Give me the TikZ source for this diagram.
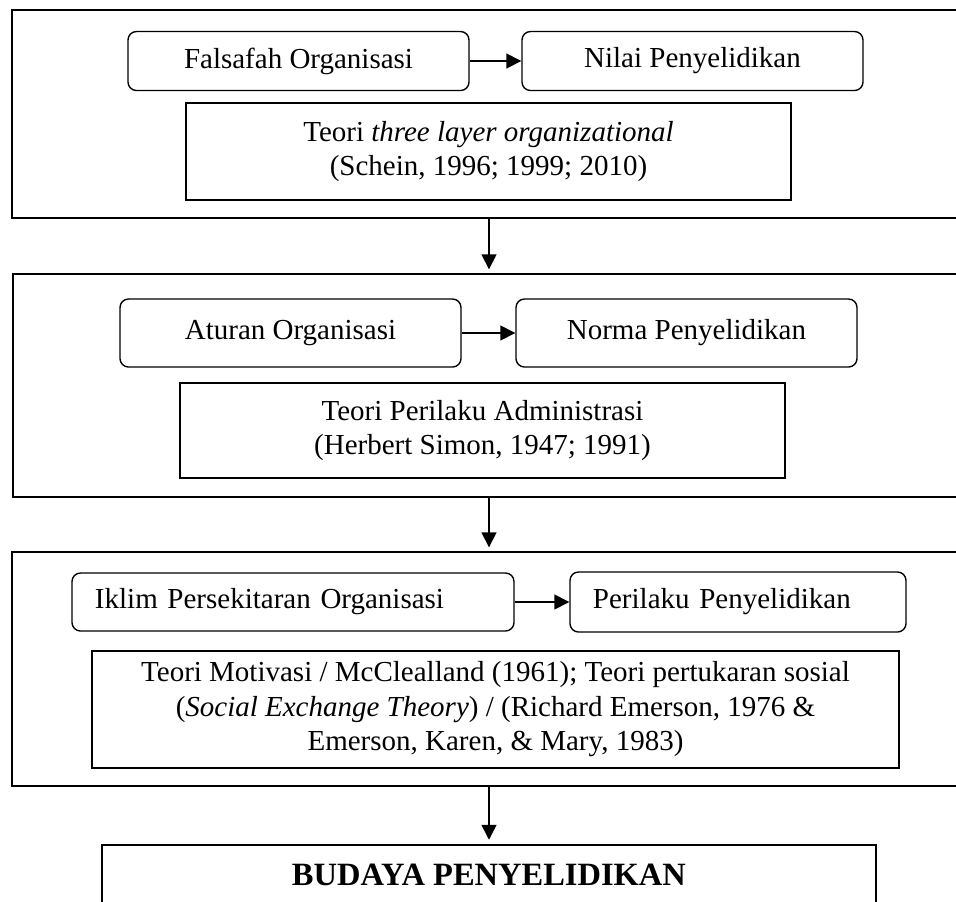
\documentclass[tikz,border=0pt]{standalone}
\usepackage{fontspec}
\setmainfont{Liberation Serif}
\usetikzlibrary{arrows.meta,positioning,calc}

\begin{document}
\begin{tikzpicture}[
  x=0.4pt, y=-0.4pt,
  layerbox/.style={
    rectangle, draw=black, line width=0.55pt,
    inner sep=0pt
  },
  roundbox/.style={
    rectangle, rounded corners=3.4pt, draw=black, line width=0.55pt,
    minimum height=23.6pt, align=center,
    font=\fontsize{11.6}{13.8}\selectfont
  },
  leftbox/.style={
    roundbox, align=left, inner xsep=9.2pt
  },
  theorybox/.style={
    rectangle, draw=black, line width=0.55pt,
    minimum width=242pt, align=center,
    font=\fontsize{11.6}{13.8}\selectfont
  },
  resultbox/.style={
    rectangle, draw=black, line width=1pt,
    minimum width=309.6pt, minimum height=24pt,
    font=\fontsize{13}{15}\selectfont\bfseries
  },
  arrow/.style={-{Triangle[length=6pt,width=6pt]}, line width=0.6pt}
]
  \useasboundingbox (0,0) rectangle (956,902);
  \clip (0,0) rectangle (956,902);

  % layer 1
  \node[layerbox, minimum width=385.2pt, minimum height=83.2pt] (layer1) at (493.5,114) {};
  \node[roundbox, minimum width=136.4pt] (falsafah) at (298.5,61) {Falsafah Organisasi};
  \node[roundbox, minimum width=136.4pt] (nilai) at (692.5,61) {Nilai Penyelidikan};
  \node[theorybox, minimum height=38.8pt] (schein) at (488.5,151.5)
       {Teori \textit{three layer organizational}\\(Schein, 1996; 1999; 2010)};

  % layer 2
  \node[layerbox, minimum width=384.8pt, minimum height=89.2pt] (layer2) at (494,385.5) {};
  \node[roundbox, minimum width=136.4pt, minimum height=27.2pt] (aturan) at (290.5,333) {Aturan Organisasi};
  \node[roundbox, minimum width=136.4pt, minimum height=27.2pt] (norma) at (686.5,333) {Norma Penyelidikan};
  \node[theorybox, minimum height=38pt] (simon) at (482.5,430.5)
       {Teori Perilaku Administrasi\\(Herbert Simon, 1947; 1991)};

  % layer 3
  \node[layerbox, minimum width=385.2pt, minimum height=93.6pt] (layer3) at (493.5,669) {};
  \node[leftbox, minimum width=176.8pt, text width=158.4pt, minimum height=23.2pt] (iklim) at (293,602)
       {Iklim Persekitaran Organisasi};
  \node[leftbox, minimum width=134.4pt, text width=116pt, minimum height=24pt] (perilaku) at (738,602)
       {Perilaku Penyelidikan};
  \node[theorybox, minimum width=322.8pt, minimum height=46.8pt] (emerson) at (495.5,709.5)
       {Teori Motivasi / McClealland (1961); Teori pertukaran sosial\\
        (\textit{Social Exchange Theory}) / (Richard Emerson, 1976 \&\\
        Emerson, Karen, \& Mary, 1983)};

  % result
  \node[resultbox] (budaya) at (489,875) {BUDAYA PENYELIDIKAN};

  \draw[arrow] (falsafah) -- (nilai);
  \draw[arrow] (aturan) -- (norma);
  \draw[arrow] (iklim) -- (perilaku);
  \draw[arrow, shorten >=1.6pt] (budaya |- layer1.south) -- (budaya |- layer2.north);
  \draw[arrow, shorten >=1.6pt] (budaya |- layer2.south) -- (budaya |- layer3.north);
  \draw[arrow, shorten >=1.6pt] (budaya |- layer3.south) -- (budaya.north);
\end{tikzpicture}
\end{document}
